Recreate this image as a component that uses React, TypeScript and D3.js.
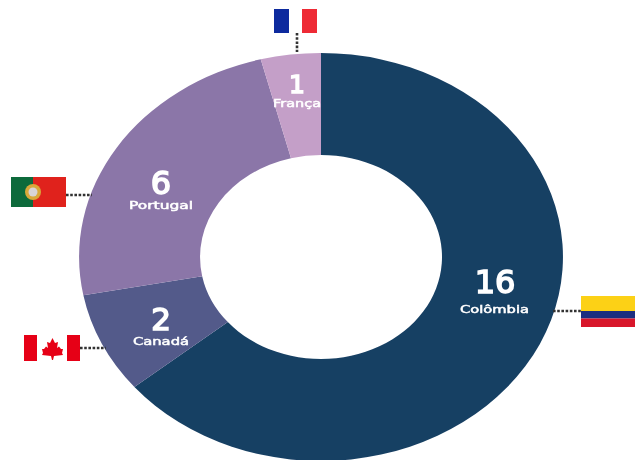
import React from "react";
import * as d3 from "d3";

const countries = ["Colômbia", "Canadá", "Portugal", "França"];
const values = [16, 2, 6, 1];
const colors = ["#173f63", "#525a8a", "#8b76a8", "#c49fc8"];

const W = 635, H = 460;
const cx = 321, cy = 257, rx = 242, ry = 204;
const holeRatio = 0.5;

const labelPos = [
  { n: [495, 293], c: [494.5, 313], size: 32, w: 69 },
  { n: [161, 330], c: [161, 345], size: 31, w: 56 },
  { n: [161, 194], c: [161, 209], size: 32, w: 64 },
  { n: [297, 93], c: [297, 107], size: 25, w: 48 },
];

function Connector({ x1, y1, x2, y2 }: { x1: number; y1: number; x2: number; y2: number }) {
  return <line x1={x1} y1={y1} x2={x2} y2={y2} stroke="#333" strokeWidth={2.6} strokeDasharray="2.6 1.6" />;
}

export default function App() {
  const pie = d3.pie<number>().sort(null)(values);
  const arc = d3.arc<d3.PieArcDatum<number>>().innerRadius(holeRatio).outerRadius(1);
  return (
    <svg width={W} height={H} viewBox={`0 0 ${W} ${H}`} style={{ position: "fixed", left: 0, top: 0, background: "#fff" }}>
      <defs>
        <filter id="soft" x="-5%" y="-5%" width="110%" height="110%">
          <feGaussianBlur stdDeviation="0.7" />
        </filter>
      </defs>
      <g filter="url(#soft)">
        <g transform={`translate(${cx},${cy}) scale(${rx},${ry})`}>
          {pie.map((d, i) => (
            <path key={countries[i]} d={arc(d) ?? ""} fill={colors[i]} />
          ))}
        </g>
        {countries.map((c, i) => (
          <g key={c} fill="#fff" stroke="#fff" textAnchor="middle" fontFamily="'DejaVu Sans', sans-serif">
            <text x={labelPos[i].n[0]} y={labelPos[i].n[1]} fontSize={labelPos[i].size} strokeWidth={1.6}>{values[i]}</text>
            <text x={labelPos[i].c[0]} y={labelPos[i].c[1]} fontSize={10.5} strokeWidth={0.5} textLength={labelPos[i].w} lengthAdjust="spacingAndGlyphs">{c}</text>
          </g>
        ))}
        <Connector x1={297} y1={33} x2={297} y2={52} />
        <Connector x1={66} y1={195} x2={92} y2={195} />
        <Connector x1={80} y1={348} x2={106} y2={348} />
        <Connector x1={553} y1={311} x2={581} y2={311} />

        {/* France */}
        <rect x={274} y={9} width={15} height={24} fill="#0a2a9e" />
        <rect x={302} y={9} width={15} height={24} fill="#ee2a35" />
        {/* Portugal */}
        <rect x={11} y={177} width={22} height={30} fill="#0b6b3a" />
        <rect x={33} y={177} width={33} height={30} fill="#e0241f" />
        <circle cx={33} cy={192} r={8} fill="#d9a83a" />
        <circle cx={33} cy={192} r={4.5} fill="#d8d4d8" />
        {/* Canada */}
        <rect x={24} y={335} width={13} height={26} fill="#e60012" />
        <rect x={67} y={335} width={13} height={26} fill="#e60012" />
        <path d="M52.5 338 L55 343 L58 342 L57 348 L59 346.5 L61 349 L63 349 L62 353 L63 355 L54 356 L53 360 L52 360 L51 356 L42 355 L43 353 L42 349 L44 349 L46 346.5 L48 348 L47 342 L50 343 Z" fill="#e60012" />
        {/* Colombia */}
        <rect x={581} y={296} width={54} height={15} fill="#fcd116" />
        <rect x={581} y={311} width={54} height={7.5} fill="#1a2f80" />
        <rect x={581} y={318.5} width={54} height={8.5} fill="#d8152c" />
      </g>
    </svg>
  );
}
